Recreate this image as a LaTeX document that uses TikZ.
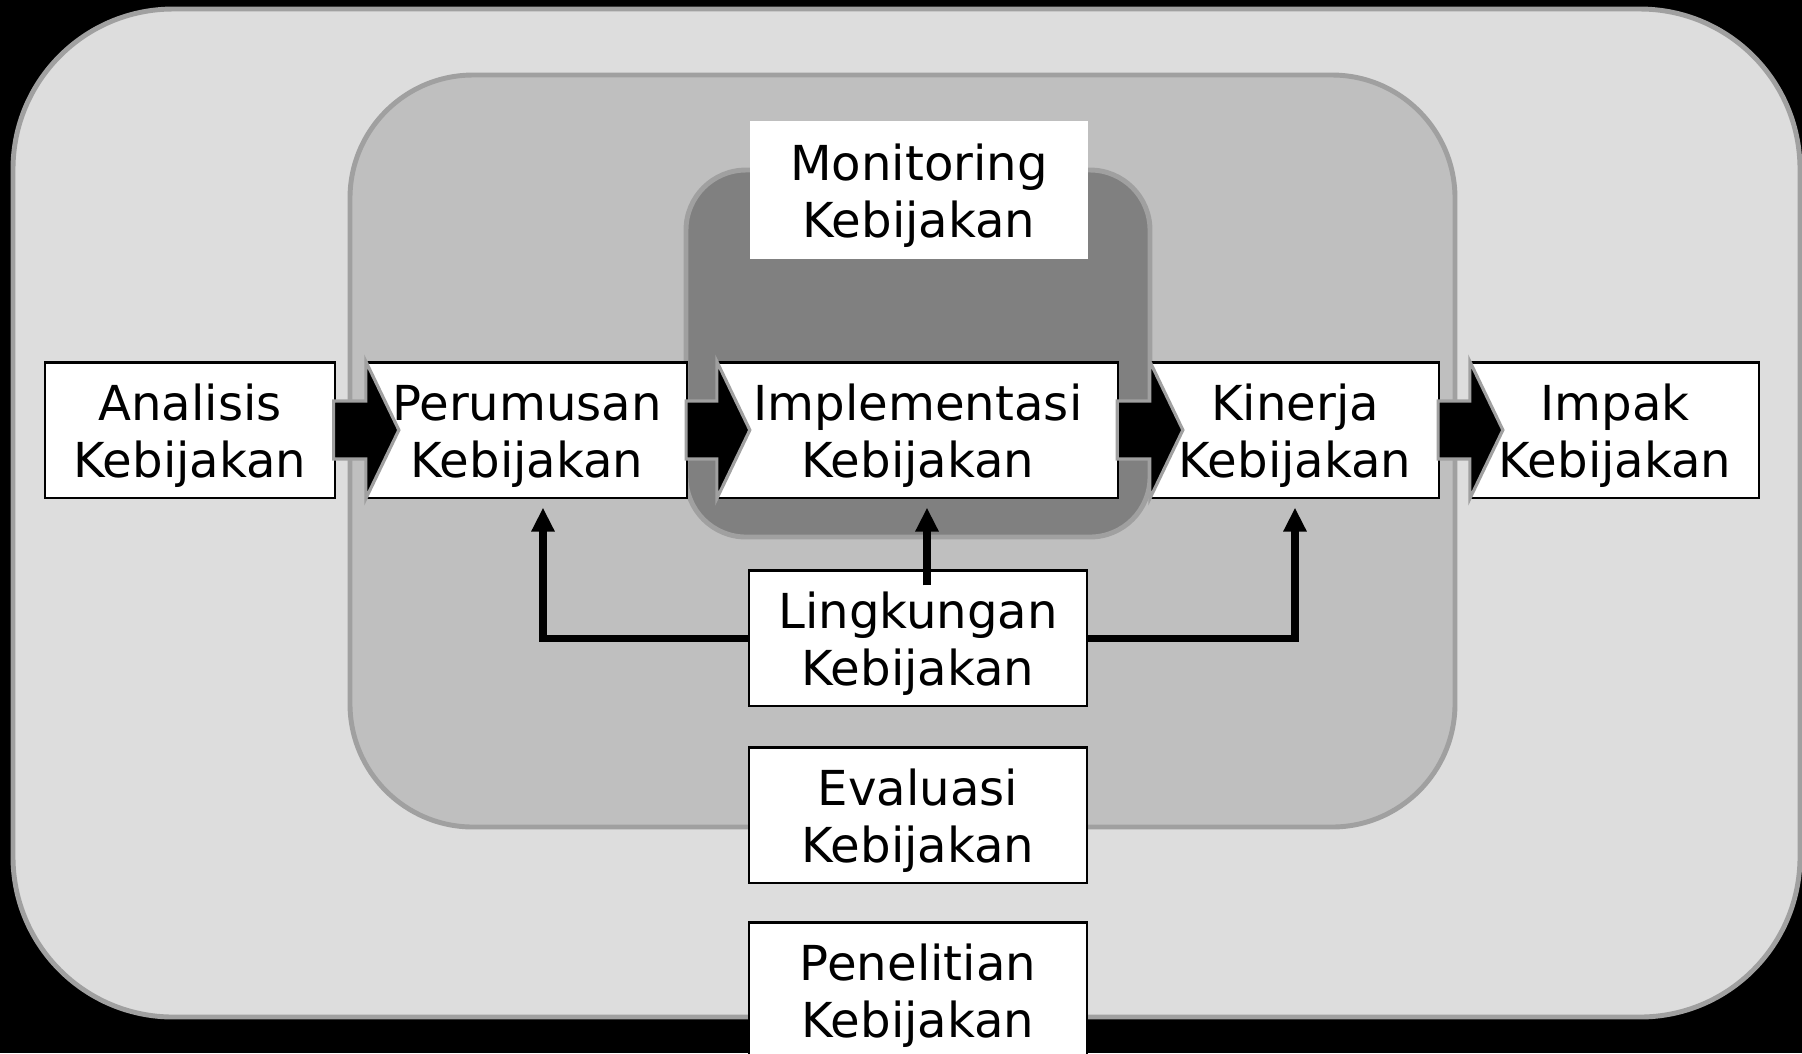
\documentclass[tikz,border=0pt]{standalone}
\usepackage{fontspec}
\setmainfont{DejaVu Sans}
\usetikzlibrary{calc,arrows.meta}

\definecolor{abu}{HTML}{A0A0A0}
\definecolor{luar}{HTML}{DDDDDD}
\definecolor{tengah}{HTML}{BFBFBF}
\definecolor{dalam}{HTML}{808080}

\tikzset{
    kotak/.style={draw=black,line width=0.6pt,fill=white,inner sep=0pt,
        minimum height=1.35cm,font=\fontsize{13.7}{16.2}\selectfont},
    wadah/.style={draw=abu,line width=1.4pt},
    blok/.style={fill=black,draw=abu,line width=0.9pt,line join=miter},
    garis/.style={line width=2pt,line join=miter,-{Triangle[width=0.22cm,length=0.24cm]}}
}

\newcommand{\teks}[1]{\raisebox{-2.2pt}[\height][\depth]{\begin{tabular}{@{}c@{}}#1\end{tabular}}}

\newcommand{\panah}[2]{%
    \draw[blok] ($(#1.east)+(-2,-29)$) -- ($(#2.west)+(0,-29)$) -- (#2.north west)
        -- ($(#2.west)+(33,0)$) -- (#2.south west) -- ($(#2.west)+(0,29)$)
        -- ($(#1.east)+(-2,29)$) -- cycle;}

\begin{document}
\begin{tikzpicture}[x=0.01cm,y=-0.01cm]
        \useasboundingbox (0,0) rectangle (1802,1053);
        \fill[black] (0,0) rectangle (1802,1053);
        \draw[wadah,fill=luar,rounded corners=1.6cm] (13,9) rectangle (1800,1017);
        \draw[wadah,fill=tengah,rounded corners=1.23cm] (350,75) rectangle (1455,827);
        \draw[wadah,fill=dalam,rounded corners=0.6cm] (686,170) rectangle (1150,537);
        \node[kotak,draw=none,minimum width=3.38cm,minimum height=1.37cm] (mon) at (919,190) {\teks{Monitoring\\Kebijakan}};
        \node[kotak,minimum width=2.89cm] (ana) at (190,430) {\teks{Analisis\\Kebijakan}};
        \node[kotak,minimum width=3.20cm] (peru) at (527,430) {\teks{Perumusan\\Kebijakan}};
        \node[kotak,minimum width=4.00cm] (impl) at (918,430) {\teks{Implementasi\\Kebijakan}};
        \node[kotak,minimum width=2.88cm] (kin) at (1295,430) {\teks{Kinerja\\Kebijakan}};
        \node[kotak,minimum width=2.88cm] (imp) at (1615,430) {\teks{Impak\\Kebijakan}};
        \panah{ana}{peru}
        \panah{peru}{impl}
        \panah{impl}{kin}
        \panah{kin}{imp}
        \node[kotak,minimum width=3.37cm] (ling) at (918,638) {\teks{Lingkungan\\Kebijakan}};
        \draw[garis] (ling.west) -| ($(peru.south)+(16,9)$);
        \draw[garis] (ling.east) -| ($(kin.south)+(0,9)$);
        \draw[garis] ($(ling.north)+(9,16)$) -- ($(impl.south)+(9,9)$);
        \node[kotak,minimum width=3.37cm] (eva) at (918,815) {\teks{Evaluasi\\Kebijakan}};
        \node[kotak,minimum width=3.37cm] (pen) at (918,990) {\teks{Penelitian\\Kebijakan}};
\end{tikzpicture}
\end{document}
